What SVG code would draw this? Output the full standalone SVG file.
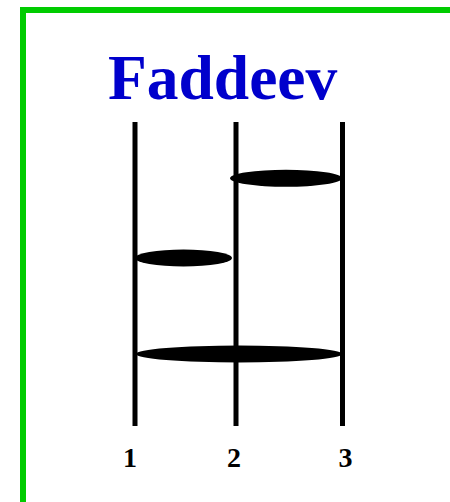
<svg xmlns="http://www.w3.org/2000/svg" width="450" height="502" viewBox="0 0 450 502">
<style>
.frame{fill:none;stroke:#00CC00;stroke-width:6}
.line{stroke:#000;stroke-width:5;fill:none}
.blob{fill:#000}
.lbl{font-family:"Liberation Serif",serif;font-weight:bold;font-size:28px;fill:#000;text-anchor:middle}
.title{font-family:"Liberation Serif",serif;font-weight:bold;font-size:63.5px;fill:#0000CC}
</style>
<rect class="frame" x="23" y="10" width="440" height="500"/>
<text class="title" x="108" y="99">Faddeev</text>
<g id="connectors">
<line class="line" x1="135" y1="122" x2="135" y2="426"/>
<line class="line" x1="236" y1="122" x2="236" y2="426"/>
<line class="line" x1="342.5" y1="122" x2="342.5" y2="426"/>
</g>
<g id="blob-top"><ellipse class="blob" cx="286" cy="178.3" rx="56" ry="8.5"/></g>
<g id="blob-mid"><ellipse class="blob" cx="183.5" cy="258" rx="48.5" ry="8.5"/></g>
<g id="blob-bottom"><ellipse class="blob" cx="239" cy="354" rx="103" ry="8.5"/></g>
<g id="label-1"><text class="lbl" x="130" y="467">1</text></g>
<g id="label-2"><text class="lbl" x="234" y="467">2</text></g>
<g id="label-3"><text class="lbl" x="345.5" y="467">3</text></g>
</svg>
